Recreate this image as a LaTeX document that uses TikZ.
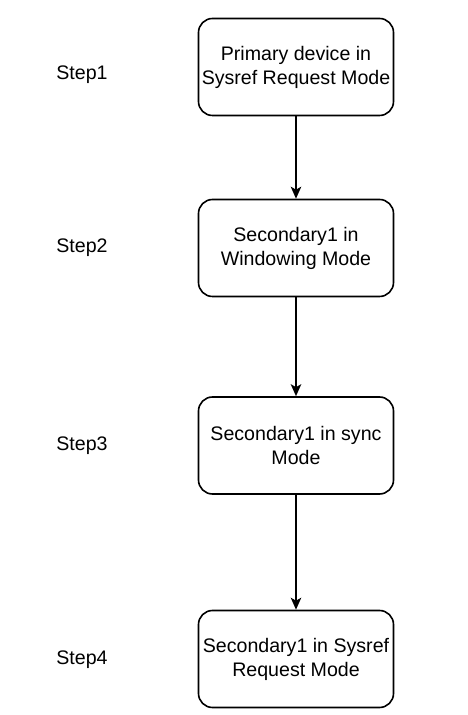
\documentclass[tikz,border=0pt]{standalone}
\usepackage{fontspec}
\setmainfont{Liberation Sans}
\usetikzlibrary{arrows.meta}
\tikzset{every node/.style={font=\fontsize{19.6}{24}\selectfont, align=center},
  modebox/.style={draw, rounded corners=14pt, line width=1.6pt, minimum width=195pt, minimum height=97pt, inner sep=0pt},
  flow/.style={-{Stealth[length=12pt,width=10.5pt,inset=3pt]}, line width=1.6pt}}

\begin{document}
\begin{tikzpicture}[x=1pt,y=1pt]
  \useasboundingbox (0,0) rectangle (467,715);
  \node[modebox] (m1) at (296,648.0) {Primary device in\\Sysref Request Mode};
  \node[modebox] (m2) at (296,467.0) {Secondary1 in\\Windowing Mode};
  \node[modebox] (m3) at (296,269.5) {Secondary1 in sync\\Mode};
  \node[modebox] (m4) at (296, 56.0) {Secondary1 in Sysref\\Request Mode};
  \node (s1) at (82,640.5) {Step1};
  \node (s2) at (82,467.0) {Step2};
  \node (s3) at (82,269.0) {Step3};
  \node (s4) at (82, 55.0) {Step4};
  \draw[flow] (m1) -- (m2);
  \draw[flow] (m2) -- (m3);
  \draw[flow] (m3) -- (m4);
\end{tikzpicture}
\end{document}
